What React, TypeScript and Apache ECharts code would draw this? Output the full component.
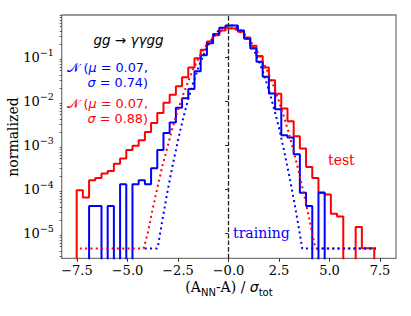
import React, { useEffect, useRef } from "react";
import * as echarts from "echarts";

// Histogram bin edges (x = (A_NN - A) / sigma_tot)
const binEdges = [
  -7.515, -7.208, -6.901, -6.594, -6.287, -5.981, -5.674, -5.367, -5.06, -4.753,
  -4.446, -4.139, -3.832, -3.525, -3.219, -2.912, -2.605, -2.298, -1.991, -1.684,
  -1.377, -1.07, -0.763, -0.456, -0.149, 0.158, 0.465, 0.772, 1.078, 1.385,
  1.692, 1.999, 2.306, 2.613, 2.92, 3.227, 3.533, 3.84, 4.147, 4.454,
  4.761, 5.068, 5.375, 5.682, 5.988, 6.295, 6.602, 6.909, 7.216,
];

// normalized densities, "test" (red)
const testDensity = [
  9.5e-5, 6.5e-5, 1.6e-4, 1.8e-4, 2.3e-4, 2.6e-4, 3.8e-4, 5.0e-4, 7.8e-4, 9.8e-4,
  1.3e-3, 2.0e-3, 3.2e-3, 5.4e-3, 9.3e-3, 0.014, 0.022, 0.035, 0.059, 0.095,
  0.148, 0.229, 0.316, 0.407, 0.457, 0.447, 0.38, 0.282, 0.182, 0.107,
  0.059, 0.03, 0.0148, 6.9e-3, 3.5e-3, 1.6e-3, 8.5e-4, 3.2e-4, 1.8e-4, 8.5e-5,
  7.6e-5, 2.8e-5, 2.4e-5, 0, 0, 1.4e-5, 4.6e-6, 4.6e-6,
];

// normalized densities, "training" (blue)
const trainDensity = [
  0, 0, 4.2e-5, 4.2e-5, 0, 4.2e-5, 0, 1.3e-4, 0, 1.3e-4,
  1.6e-4, 1.3e-4, 3.0e-4, 7.8e-4, 1.9e-3, 3.3e-3, 7.1e-3, 0.0117, 0.019, 0.048,
  0.112, 0.209, 0.339, 0.468, 0.525, 0.525, 0.407, 0.263, 0.158, 0.079,
  0.036, 0.015, 6.6e-3, 1.7e-3, 1.5e-3, 6.3e-4, 8.3e-5, 4.2e-5, 0, 8.3e-5,
  0, 0, 0, 0, 0, 0, 0, 0,
];

// Gaussian fit N(0.07, 0.88) for test (dotted red)
const gaussTestX = [
  -7.36, -4.2, -4.0, -3.75, -3.5, -3.25, -3.0, -2.75, -2.5, -2.25, -2.0, -1.75, -1.5,
  -1.25, -1.0, -0.75, -0.5, -0.25, 0.0, 0.25, 0.5, 0.75, 1.0, 1.25, 1.5, 1.75,
  2.0, 2.25, 2.5, 2.75, 3.0, 3.25, 3.5, 3.75, 4.0, 4.25, 4.35, 7.3,
];
const gaussTestY = [
  4.5e-6, 4.5e-6, 1.0e-5, 3.6e-5, 1.2e-4, 3.7e-4, 1.0e-3, 2.7e-3, 6.3e-3, 0.014, 0.028, 0.054, 0.091,
  0.148, 0.214, 0.295, 0.363, 0.427, 0.452, 0.447, 0.398, 0.339, 0.257, 0.186, 0.12, 0.072,
  0.041, 0.021, 0.01, 4.4e-3, 1.8e-3, 6.6e-4, 2.3e-4, 7.2e-5, 2.1e-5, 5.8e-6, 4.5e-6, 4.5e-6,
];

// Gaussian fit N(0.07, 0.74) for training (dotted blue)
const gaussTrainX = [
  -4.26, -3.55, -3.5, -3.25, -3.0, -2.75, -2.5, -2.25, -2.0, -1.75, -1.5, -1.25,
  -1.0, -0.75, -0.5, -0.25, 0.0, 0.25, 0.5, 0.75, 1.0, 1.25, 1.5, 1.75, 2.0,
  2.25, 2.5, 2.75, 3.0, 3.25, 3.5, 3.65, 7.3,
];
const gaussTrainY = [
  4.5e-6, 4.5e-6, 4.8e-6, 2.3e-5, 1.0e-4, 3.8e-4, 1.3e-3, 4.0e-3, 0.011, 0.026, 0.057, 0.11,
  0.19, 0.292, 0.401, 0.491, 0.537, 0.524, 0.456, 0.354, 0.245, 0.151, 0.083, 0.041, 0.018,
  7.0e-3, 2.5e-3, 7.6e-4, 2.1e-4, 5.3e-5, 1.2e-5, 4.5e-6, 4.5e-6,
];

const xTicks = [-7.5, -5, -2.5, 0, 2.5, 5, 7.5];
const xTickLabels = ["\u22127.5", "\u22125.0", "\u22122.5", "\u22120.0", "2.5", "5.0", "7.5"];
const yDecades = [-5, -4, -3, -2, -1];
const yExponentLabels = ["\u22125", "\u22124", "\u22123", "\u22122", "\u22121"];

const X_MIN = -8.257;
const X_MAX = 8.292;
const Y_MIN = -5.568; // log10 of lower limit
const Y_MAX = -0.0386; // log10 of upper limit
const BELOW = -9;

const RED = "#ff0000";
const BLUE = "#0000ff";
const SERIF = "DejaVu Serif";
const SANS = "DejaVu Sans";
const ANN = 12.8;
const ANN_LH = 15;

function stepPoints(h: number[]): number[][] {
  const pts: number[][] = [[binEdges[0], BELOW]];
  h.forEach((v, k) => {
    const y = v > 0 ? Math.log10(v) : BELOW;
    pts.push([binEdges[k], y], [binEdges[k + 1], y]);
  });
  pts.push([binEdges[h.length], BELOW]);
  return pts;
}

function curvePoints(xs: number[], ys: number[]): number[][] {
  return xs.map((x, i) => [x, Math.log10(ys[i])]);
}

function minorTicks(): number[] {
  const out: number[] = [];
  for (let d = -6; d <= -1; d++) {
    for (let m = 2; m <= 9; m++) {
      const v = d + Math.log10(m);
      if (v > Y_MIN && v < Y_MAX) out.push(v);
    }
  }
  return out;
}

function annText(sigma: string, color: string, y: number) {
  return {
    type: "text",
    x: 148,
    y,
    style: {
      text: `{c|\ud835\udca9}{t| (}{i|\u03bc}{t| = 0.07,}\n{i|\u03c3}{t| = ${sigma})}`,
      fill: color,
      fontFamily: SANS,
      fontSize: ANN,
      lineHeight: ANN_LH,
      textAlign: "right",
      textVerticalAlign: "middle",
      rich: {
        c: { fontFamily: SANS, fontSize: ANN, lineHeight: ANN_LH, fill: color },
        t: { fontFamily: SANS, fontSize: ANN, lineHeight: ANN_LH, fill: color },
        i: { fontFamily: SANS, fontSize: ANN, lineHeight: ANN_LH, fontStyle: "italic", fill: color },
      },
    },
  };
}

export default function App() {
  const ref = useRef<HTMLDivElement>(null);
  useEffect(() => {
    if (!ref.current) return;
    const chart = echarts.init(ref.current, null, { renderer: "svg" });
    const tickColor = "#333";
    const option: any = {
      animation: false,
      backgroundColor: "#fff",
      grid: {
        left: 61.7,
        top: 15,
        width: 334.3,
        height: 243.3,
        show: true,
        borderColor: "#7a7a7a",
        borderWidth: 1.3,
        backgroundColor: "transparent",
      },
      xAxis: {
        type: "value",
        min: X_MIN,
        max: X_MAX,
        axisLine: { show: false },
        splitLine: { show: false },
        axisTick: {
          show: true,
          inside: false,
          length: 3.5,
          lineStyle: { color: tickColor, width: 1 },
          customValues: xTicks,
        },
        axisLabel: {
          customValues: xTicks,
          margin: 6,
          fontFamily: SERIF,
          fontSize: 13,
          color: "#000",
          formatter: (v: number) => {
            const i = xTicks.findIndex((t) => Math.abs(t - v) < 1e-6);
            return i >= 0 ? xTickLabels[i] : "";
          },
        },
      },
      yAxis: [
        {
          type: "value",
          min: Y_MIN,
          max: Y_MAX,
          position: "left",
          axisLine: { show: false },
          splitLine: { show: false },
          axisTick: {
            show: true,
            inside: false,
            length: 3.5,
            lineStyle: { color: tickColor, width: 1 },
            customValues: yDecades,
          },
          axisLabel: {
            customValues: yDecades,
            margin: 8,
            color: "#000",
            formatter: (v: number) => {
              const i = yDecades.findIndex((t) => Math.abs(t - v) < 1e-6);
              return i >= 0 ? `{b|10}{s|${yExponentLabels[i]}}` : "";
            },
            rich: {
              b: { fontFamily: SERIF, fontSize: 13, lineHeight: 20, color: "#000" },
              s: { fontFamily: SERIF, fontSize: 9.5, lineHeight: 10, verticalAlign: "top", color: "#000" },
            },
          },
        },
        {
          type: "value",
          min: Y_MIN,
          max: Y_MAX,
          position: "left",
          axisLine: { show: false },
          splitLine: { show: false },
          axisLabel: { show: false },
          axisTick: {
            show: true,
            inside: false,
            length: 2,
            lineStyle: { color: tickColor, width: 0.8 },
            customValues: minorTicks(),
          },
        },
      ],
      series: [
        {
          name: "test",
          type: "line",
          data: stepPoints(testDensity),
          showSymbol: false,
          symbol: "none",
          clip: true,
          lineStyle: { color: RED, width: 2 },
          z: 2,
        },
        {
          name: "training",
          type: "line",
          data: stepPoints(trainDensity),
          showSymbol: false,
          symbol: "none",
          clip: true,
          lineStyle: { color: BLUE, width: 2 },
          z: 3,
        },
        {
          name: "fit test",
          type: "line",
          data: curvePoints(gaussTestX, gaussTestY),
          showSymbol: false,
          symbol: "none",
          clip: true,
          lineStyle: { color: RED, width: 2, type: [2, 3.3] },
          z: 4,
        },
        {
          name: "fit training",
          type: "line",
          data: curvePoints(gaussTrainX, gaussTrainY),
          showSymbol: false,
          symbol: "none",
          clip: true,
          lineStyle: { color: BLUE, width: 2, type: [2, 3.3], dashOffset: 2.5 },
          z: 5,
          markLine: {
            silent: true,
            symbol: "none",
            label: { show: false },
            lineStyle: { color: "#222", width: 1.3, type: [4.6, 2] },
            data: [{ xAxis: 0 }],
          },
        },
      ],
      graphic: [
        {
          type: "text",
          x: 128.5,
          y: 40,
          style: {
            text: "{i|gg} \u2192 {i|\u03b3\u03b3gg}",
            fontFamily: SANS,
            fontSize: 13.5,
            fill: "#000",
            textAlign: "center",
            textVerticalAlign: "middle",
            rich: {
              i: { fontFamily: SANS, fontSize: 13.5, fontStyle: "italic", fill: "#000" },
            },
          },
        },
        annText("0.74", BLUE, 75),
        annText("0.88", RED, 111),
        {
          type: "text",
          x: 328,
          y: 160,
          style: {
            text: "test",
            fill: RED,
            fontFamily: SERIF,
            fontSize: 14,
            textAlign: "left",
            textVerticalAlign: "middle",
          },
        },
        {
          type: "text",
          x: 233,
          y: 233,
          style: {
            text: "training",
            fill: BLUE,
            fontFamily: SERIF,
            fontSize: 14,
            textAlign: "left",
            textVerticalAlign: "middle",
          },
        },
        {
          type: "text",
          x: 12.5,
          y: 137,
          rotation: Math.PI / 2,
          style: {
            text: "normalized",
            fill: "#000",
            fontFamily: SERIF,
            fontSize: 14,
            textAlign: "center",
            textVerticalAlign: "middle",
          },
        },
        {
          type: "text",
          x: 229,
          y: 287,
          style: {
            text: "{n|(A}{sub|NN}{n|-A) / }{si|\u03c3}{sub|tot}",
            fill: "#000",
            textAlign: "center",
            textVerticalAlign: "middle",
            rich: {
              n: { fontFamily: SERIF, fontSize: 14, lineHeight: 20, fill: "#000" },
              si: { fontFamily: SANS, fontSize: 14, lineHeight: 20, fontStyle: "italic", fill: "#000" },
              sub: { fontFamily: SANS, fontSize: 10, lineHeight: 10, verticalAlign: "bottom", fill: "#000" },
            },
          },
        },
      ],
    };
    chart.setOption(option);
    return () => chart.dispose();
  }, []);
  return (
    <div
      ref={ref}
      style={{ position: "fixed", left: 0, top: 0, width: 411, height: 316, background: "#fff" }}
    />
  );
}
